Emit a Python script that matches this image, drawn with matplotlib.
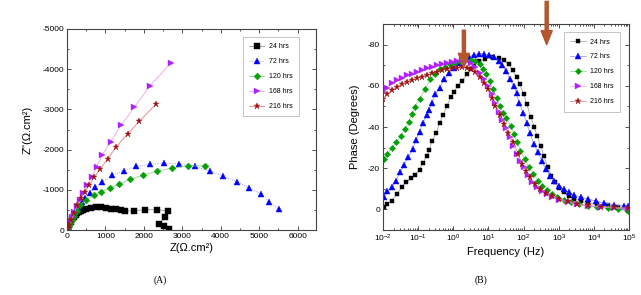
import matplotlib
matplotlib.use("Agg")
import matplotlib.pyplot as plt
import numpy as np
from matplotlib.ticker import MultipleLocator, LogLocator, NullFormatter

plt.rcParams["font.family"] = ["Liberation Sans", "DejaVu Sans"]
plt.rcParams["axes.unicode_minus"] = False
plt.rcParams["mathtext.default"] = "regular"

LABELS = ["24 hrs", "72 hrs", "120 hrs", "168 hrs", "216 hrs"]
COLORS = ["#000000", "#0000ff", "#00a000", "#b020ff", "#a01010"]
LINE_COLORS = ["#9a9a9a", "#8c8cff", "#8fd08f", "#f0a0f0", "#e08080"]
MARKERS = ["s", "^", "D", ">", "*"]

# ---- (A) Nyquist: Z' and -Z'' in ohm.cm2
zr_24 = [0, 30, 60, 96, 140, 183, 230, 270, 310, 357, 420, 488, 618, 749, 879, 1010,
         1140, 1271, 1402, 1506, 1749, 2028, 2332, 2619, 2550, 2385, 2515, 2645]
zi_24 = [0, 60, 130, 206, 270, 332, 380, 415, 450, 480, 510, 530, 555, 572, 564, 547,
         530, 514, 497, 472, 480, 505, 505, 480, 315, 149, 99, 33]
zr_72 = [30, 60, 100, 150, 210, 290, 380, 480, 590, 730, 900, 1180, 1480, 1800, 2160,
         2530, 2920, 3320, 3720, 4060, 4430, 4740, 5060, 5250, 5510]
zi_72 = [60, 150, 250, 350, 460, 580, 690, 800, 920, 1060, 1200, 1360, 1470, 1580, 1640,
         1660, 1650, 1580, 1470, 1340, 1200, 1040, 890, 700, 520]
zr_120 = [20, 45, 80, 130, 190, 260, 340, 490, 700, 880, 1110, 1360, 1640, 1970, 2330,
          2720, 3140, 3590]
zi_120 = [30, 90, 170, 260, 360, 470, 620, 750, 860, 950, 1040, 1140, 1260, 1360, 1460,
          1540, 1590, 1600]
zr_168 = [20, 52, 120, 180, 270, 330, 420, 530, 640, 775, 920, 1140, 1400, 1750, 2160, 2710]
zi_168 = [50, 200, 330, 450, 600, 750, 930, 1120, 1310, 1575, 1870, 2200, 2600, 3050, 3590, 4160]
zr_216 = [20, 60, 110, 190, 270, 360, 470, 575, 705, 855, 1055, 1270, 1575, 1880, 2315]
zi_216 = [40, 130, 260, 420, 620, 790, 950, 1120, 1310, 1510, 1760, 2060, 2390, 2700, 3135]

# ---- (B) Bode phase: log10(frequency / Hz) and |phase| in degrees
logf_24 = [-1.97, -1.88, -1.75, -1.59, -1.47, -1.34, -1.21, -1.09, -0.96, -0.87, -0.75,
           -0.68, -0.61, -0.49, -0.39, -0.29, -0.18, -0.07, 0.03, 0.12, 0.25, 0.39, 0.50,
           0.58, 0.72, 0.91, 1.11, 1.29, 1.44, 1.58, 1.69, 1.80, 1.89, 2.01, 2.09, 2.20,
           2.30, 2.39, 2.49, 2.58, 2.69, 2.79, 2.89, 3.01, 3.15, 3.29, 3.44, 3.63, 3.82,
           4.10, 4.39, 4.68, 4.96]
ph_24 = [1.1, 2.7, 4.3, 7.6, 10.8, 13.2, 15.1, 16.7, 19.3, 22.5, 25.8, 29.0, 33.0, 37.0,
         41.9, 45.9, 50.2, 54.7, 57.2, 59.9, 62.3, 65.6, 68.0, 69.6, 72.0, 73.1, 73.9, 73.3,
         72.4, 70.4, 67.6, 64.4, 60.7, 55.9, 51.0, 45.1, 40.2, 35.4, 30.6, 25.7, 20.4, 16.4,
         13.2, 10.5, 8.4, 6.4, 5.2, 4.0, 3.2, 2.4, 1.9, 1.1, -1.0]
logf_72 = [-1.97, -1.88, -1.75, -1.63, -1.51, -1.40, -1.28, -1.16, -1.06, -0.96, -0.87,
           -0.75, -0.68, -0.61, -0.51, -0.39, -0.26, -0.13, 0.01, 0.15, 0.29, 0.44, 0.58,
           0.72, 0.87, 1.01, 1.15, 1.30, 1.39, 1.51, 1.61, 1.72, 1.80, 1.87, 1.99, 2.09,
           2.18, 2.29, 2.41, 2.51, 2.63, 2.75, 2.87, 3.01, 3.15, 3.29, 3.44, 3.63, 3.82,
           4.06, 4.29, 4.58, 4.87, 4.97]
ph_72 = [5.9, 8.7, 10.8, 14.0, 18.0, 21.6, 25.3, 29.3, 33.8, 37.7, 41.9, 45.7, 48.5, 51.8,
         55.9, 59.1, 63.1, 66.0, 68.7, 70.9, 72.8, 74.1, 75.0, 75.5, 75.5, 75.0, 74.0, 72.0,
         69.9, 67.1, 63.1, 59.9, 56.7, 51.8, 46.7, 41.9, 37.0, 31.7, 27.7, 23.7, 19.6, 16.4,
         14.0, 11.6, 9.7, 8.4, 7.1, 5.9, 5.2, 4.0, 3.2, 2.3, 1.6, 1.5]
logf_120 = [-1.97, -1.88, -1.75, -1.63, -1.50, -1.37, -1.27, -1.18, -1.09, -0.96, -0.80,
            -0.66, -0.51, -0.37, -0.23, -0.09, 0.06, 0.20, 0.34, 0.49, 0.63, 0.75, 0.85,
            0.94, 1.04, 1.13, 1.23, 1.32, 1.42, 1.51, 1.63, 1.72, 1.82, 1.91, 2.03, 2.15,
            2.28, 2.41, 2.53, 2.68, 2.82, 2.96, 3.15, 3.34, 3.58, 3.82, 4.10, 4.39, 4.68, 4.96]
ph_120 = [24.5, 26.9, 29.6, 32.5, 35.7, 39.0, 42.5, 46.2, 49.8, 53.8, 58.3, 63.1, 65.6,
          68.0, 69.2, 70.4, 71.2, 72.0, 72.5, 72.5, 72.0, 70.4, 68.0, 65.6, 62.3, 58.3,
          54.3, 50.2, 47.0, 44.6, 40.6, 36.6, 32.5, 28.5, 24.5, 20.4, 17.2, 14.0, 11.6,
          9.5, 7.6, 5.9, 4.8, 3.5, 2.4, 1.6, 1.1, 0.6, 0.3, -0.8]
logf_168 = [-1.99, -1.90, -1.75, -1.61, -1.47, -1.32, -1.18, -1.04, -0.89, -0.75, -0.61,
            -0.47, -0.32, -0.18, -0.04, 0.11, 0.25, 0.39, 0.51, 0.63, 0.75, 0.87, 0.98,
            1.09, 1.20, 1.31, 1.40, 1.49, 1.60, 1.71, 1.80, 1.90, 2.01, 2.13, 2.25, 2.39,
            2.53, 2.68, 2.82, 3.01, 3.25, 3.53, 3.82, 4.20, 4.58, 4.96]
ph_168 = [57.0, 59.1, 61.2, 62.8, 63.9, 65.1, 65.8, 66.8, 67.6, 68.5, 69.1, 69.9, 70.5,
          71.2, 71.8, 72.1, 72.3, 72.0, 70.9, 69.2, 66.3, 63.1, 59.9, 55.9, 51.5, 47.3,
          43.5, 39.3, 35.0, 30.9, 27.0, 23.7, 20.4, 16.5, 13.2, 10.8, 8.9, 7.3, 5.9, 4.8,
          3.5, 2.4, 1.6, 1.1, 0.6, 0.3]
logf_216 = [-1.99, -1.90, -1.75, -1.61, -1.47, -1.32, -1.18, -1.04, -0.89, -0.75, -0.61,
            -0.47, -0.32, -0.18, -0.04, 0.11, 0.25, 0.39, 0.51, 0.63, 0.75, 0.87, 0.98,
            1.11, 1.20, 1.32, 1.44, 1.56, 1.71, 1.84, 1.96, 2.07, 2.18, 2.32, 2.47, 2.63,
            2.82, 3.01, 3.25, 3.53, 3.82, 4.20, 4.58, 4.96]
ph_216 = [53.5, 55.9, 58.0, 59.6, 60.7, 61.8, 62.8, 63.6, 64.4, 65.2, 66.0, 66.8, 67.5,
          68.0, 68.5, 68.8, 68.9, 68.8, 68.0, 66.7, 64.4, 61.5, 58.3, 54.3, 50.2, 45.7,
          41.4, 37.0, 32.5, 27.0, 22.1, 18.5, 15.6, 12.5, 10.0, 8.1, 6.4, 5.2, 3.9, 2.8,
          1.9, 1.4, 1.0, 0.8]

# arrows marking the time-constant frequencies (Hz, degrees)
ARROW1 = (2.0, -69.0, -87.0)
ARROW2 = (454.0, -80.0, -101.0)
ARROW_COLOR = "#b5562e"

nyq = [(zr_24, zi_24), (zr_72, zi_72), (zr_120, zi_120), (zr_168, zi_168), (zr_216, zi_216)]
bode = [(logf_24, ph_24), (logf_72, ph_72), (logf_120, ph_120), (logf_168, ph_168),
        (logf_216, ph_216)]

fig = plt.figure(figsize=(6.41, 2.95), dpi=100)
ax1 = fig.add_axes([0.1045, 0.2203, 0.388, 0.6814])
ax2 = fig.add_axes([0.5975, 0.2203, 0.3838, 0.6983])

msizes = [3.7, 4.1, 3.5, 4.1, 5.0]

for i, (zr, zi) in enumerate(nyq):
    ax1.plot(zr, -np.array(zi), color=LINE_COLORS[i], lw=0.6, ls=":" if i == 1 else "-",
             marker=MARKERS[i], ms=msizes[i], mfc=COLORS[i], mec=COLORS[i], mew=0.3,
             label=LABELS[i])

ax1.set_xlim(0, 6470)
ax1.set_ylim(0, -5000)
ax1.xaxis.set_major_locator(MultipleLocator(1000))
ax1.xaxis.set_minor_locator(MultipleLocator(500))
ax1.yaxis.set_major_locator(MultipleLocator(1000))
ax1.yaxis.set_minor_locator(MultipleLocator(500))
ax1.set_xlabel("Z(Ω.cm²)", fontsize=8, labelpad=2)
ax1.set_ylabel("Z''(Ω.cm²)", fontsize=8, labelpad=7)

for i, (lf, ph) in enumerate(bode):
    ax2.plot(10 ** np.array(lf), -np.array(ph), color=LINE_COLORS[i], lw=0.5,
             marker=MARKERS[i], ms=msizes[i] - 0.3, mfc=COLORS[i], mec=COLORS[i], mew=0.3,
             label=LABELS[i])

ax2.set_xscale("log")
ax2.set_xlim(1e-2, 1e5)
ax2.set_ylim(10, -90)
ax2.xaxis.set_major_locator(LogLocator(base=10, numticks=10))
ax2.xaxis.set_minor_locator(LogLocator(base=10, subs=np.arange(2, 10), numticks=20))
ax2.xaxis.set_minor_formatter(NullFormatter())
ax2.yaxis.set_major_locator(MultipleLocator(20))
ax2.yaxis.set_minor_locator(MultipleLocator(10))
ax2.set_xlabel("Frequency (Hz)", fontsize=8, labelpad=2)
ax2.set_ylabel("Phase (Degrees)", fontsize=8, labelpad=6)

for f, y_tip, y_tail in (ARROW1, ARROW2):
    ax2.annotate("", xy=(f, y_tip), xytext=(f, y_tail), annotation_clip=False,
                 arrowprops=dict(facecolor=ARROW_COLOR, edgecolor=ARROW_COLOR,
                                 width=2.2, headwidth=8, headlength=10, shrink=0))

for ax in (ax1, ax2):
    ax.tick_params(which="both", direction="in", top=True, right=True, labelsize=6,
                   colors="#333333", labelcolor="black", width=0.6)
    ax.tick_params(which="major", length=3, pad=2)
    ax.tick_params(which="minor", length=1.6)
    for s in ax.spines.values():
        s.set_linewidth(0.8)
        s.set_color("#444444")

leg_kw = dict(fontsize=5, frameon=True, fancybox=False, edgecolor="#aaaaaa",
              borderpad=0.9, labelspacing=1.15, handlelength=2.2, handletextpad=0.6,
              borderaxespad=0)
leg1 = ax1.legend(loc="upper left", bbox_to_anchor=(0.707, 0.96), **leg_kw)
leg2 = ax2.legend(loc="upper left", bbox_to_anchor=(0.736, 0.96), **leg_kw)
for leg in (leg1, leg2):
    leg.get_frame().set_linewidth(0.6)

fig.text(0.25, 0.04, "(A)", fontsize=7, family="Liberation Serif", ha="center")
fig.text(0.75, 0.04, "(B)", fontsize=7, family="Liberation Serif", ha="center")

fig.savefig("out.png", dpi=100)
